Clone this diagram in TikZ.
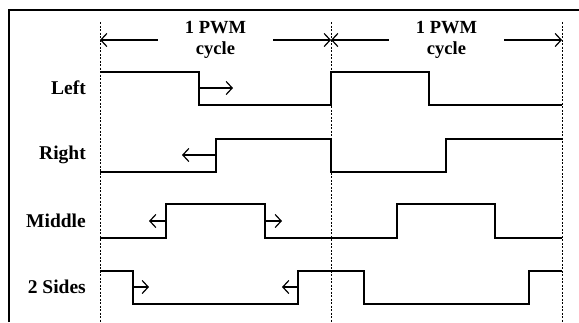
\documentclass[tikz,border=0pt]{standalone}
\usepackage{fontspec}
\setmainfont{Liberation Serif}
\usetikzlibrary{arrows.meta,positioning}
\tikzstyle{siglabel} = [anchor=east, inner sep=0pt, font=\bfseries\fontsize{19.5}{21}\selectfont]
\tikzstyle{cyclebox} = [minimum width=115pt, inner sep=0pt, align=center, font=\bfseries\fontsize{18.5}{21}\selectfont]
\tikzstyle{signal} = [line width=1.7pt, line join=miter]
\tikzstyle{arrow} = [line width=1.2pt, -{Straight Barb[length=6pt,width=13pt]}]
\tikzstyle{guide} = [line width=0.9pt, dash pattern=on 2pt off 1.5pt]

\begin{document}
\begin{tikzpicture}[x=1pt, y=-1pt]
    \useasboundingbox (0,0) rectangle (579,322);
    % Frame
    \draw[line width=1.7pt] (9,322) -- (9,10) -- (579,10);
    % Cycle marks
    \foreach \x [count=\i from 0] in {100,331,562} {
        \coordinate (mark\i) at (\x,40);
        \draw[guide] (\x,22) -- (\x,322);
    }
    % Nodes
    \node (pwmA) [cyclebox] at (215.5,40) {1 PWM\\cycle};
    \node (pwmB) [cyclebox] at (446.5,40) {1 PWM\\cycle};
    \node (lblLeft) [siglabel] at (86,88) {Left};
    \node (lblRight) [siglabel] at (86,155) {Right};
    \node (lblMiddle) [siglabel] at (86,221) {Middle};
    \node (lblSides) [siglabel] at (86,287) {2 Sides};

    % Arrows
    \draw[arrow] (pwmA.west) -- (mark0);
    \draw[arrow] (pwmA.east) -- (mark1);
    \draw[arrow] (pwmB.west) -- (mark1);
    \draw[arrow] (pwmB.east) -- (mark2);

    % Waveforms
    \draw[signal] (100,72) -- (199,72) -- (199,105) -- (331,105) -- (331,72) -- (429,72) -- (429,105) -- (562,105);
    \draw[arrow] (199,88) -- (233,88);

    \draw[signal] (100,172) -- (216,172) -- (216,139) -- (331,139) -- (331,172) -- (446,172) -- (446,139) -- (562,139);
    \draw[arrow] (216,155) -- (182,155);

    \draw[signal] (100,238) -- (166,238) -- (166,204) -- (265,204) -- (265,238) -- (397,238) -- (397,204) -- (495,204) -- (495,238) -- (562,238);
    \draw[arrow] (166,221) -- (149,221);
    \draw[arrow] (265,221) -- (282,221);

    \draw[signal] (100,271) -- (133,271) -- (133,304) -- (298,304) -- (298,271) -- (364,271) -- (364,304) -- (529,304) -- (529,271) -- (562,271);
    \draw[arrow] (133,287) -- (149,287);
    \draw[arrow] (298,287) -- (282,287);
\end{tikzpicture}
\end{document}
